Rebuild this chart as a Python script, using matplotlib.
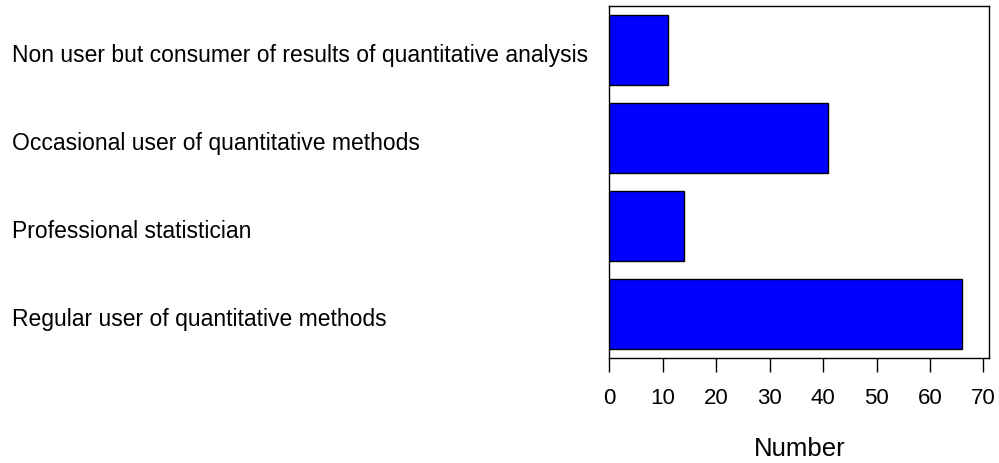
import matplotlib
matplotlib.use("Agg")
import matplotlib.pyplot as plt
import matplotlib.transforms as mtransforms

categories = [
    "Non user but consumer of results of quantitative analysis",
    "Occasional user of quantitative methods",
    "Professional statistician",
    "Regular user of quantitative methods",
]
values = [11, 41, 14, 66]
xticks = [0, 10, 20, 30, 40, 50, 60, 70]

plt.rcParams['font.family'] = ['Liberation Sans', 'DejaVu Sans']

fig = plt.figure(figsize=(9.99, 4.63), dpi=100)
ax = fig.add_axes([609.3/999, 1-358/463, (989.3-609.3)/999, (358-6)/463])

pos = list(range(len(categories)))
ax.barh(pos, values, height=0.8, color='#0000FF', edgecolor='black', linewidth=1)
ax.set_ylim(len(categories)-0.5, -0.5)
ax.set_xlim(0, 71.1)
ax.set_yticks(pos)
ax.set_yticklabels(categories, fontsize=16.5)
ax.tick_params(axis='y', length=0, pad=(609.3-12)*0.72)
ax.set_xticks(xticks)
ax.set_xticklabels([str(t) for t in xticks], fontsize=16)
ax.tick_params(axis='x', length=9.9, width=1, pad=12)
ax.set_xlabel("Number", fontsize=18.5, labelpad=20)
for s in ax.spines.values():
    s.set_linewidth(1)

shift = mtransforms.ScaledTranslation(0, -3/100, fig.dpi_scale_trans)
for lab in ax.get_yticklabels():
    lab.set_horizontalalignment('left')
    lab.set_transform(lab.get_transform() + shift)

fig.savefig("out.png", dpi=100)
